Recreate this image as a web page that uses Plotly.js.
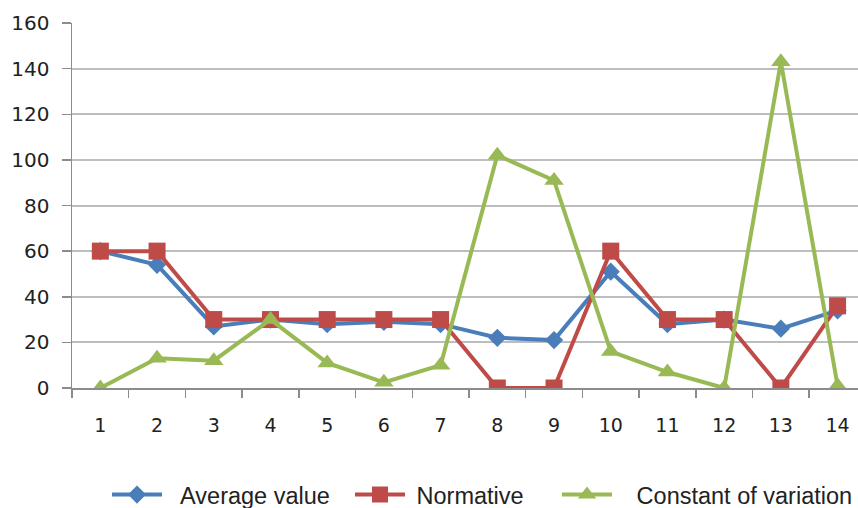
<!DOCTYPE html>
<html>
<head>
<meta charset="utf-8">
<script src="https://cdn.plot.ly/plotly-3.0.1.min.js"></script>
<style>html,body{margin:0;padding:0;background:#fff;}#chart{width:858px;height:508px;}</style>
</head>
<body>
<div id="chart"></div>
<script>
var categories = ["1","2","3","4","5","6","7","8","9","10","11","12","13","14"];
var averageValue = [60, 54, 27, 30, 28, 29, 28, 22, 21, 51, 28, 30, 26, 34];
var normative = [60, 60, 30, 30, 30, 30, 30, 0, 0, 60, 30, 30, 0, 36];
var constantOfVariation = [0, 13, 12, 30, 11, 2.5, 10, 102, 91, 16, 7, 0, 143, 1];
var seriesNames = ["Average value", "Normative", "Constant of variation"];
var yTicks = [0, 20, 40, 60, 80, 100, 120, 140, 160];

var NB = "\u00a0";
var traces = [
  {x: categories, y: averageValue, name: NB + NB + seriesNames[0], legend: "legend", type: "scatter", mode: "lines+markers",
   line: {color: "#4a7ebb", width: 4}, marker: {symbol: "diamond", size: 14, color: "#4a7ebb"}},
  {x: categories, y: normative, name: NB + seriesNames[1], legend: "legend2", type: "scatter", mode: "lines+markers",
   line: {color: "#be4b48", width: 4}, marker: {symbol: "square", size: 17, color: "#be4b48"}},
  {x: categories, y: constantOfVariation, name: NB + NB + NB + seriesNames[2], legend: "legend3", type: "scatter", mode: "lines+markers",
   line: {color: "#98b954", width: 4}, marker: {symbol: "triangle-up", size: 17, color: "#98b954"}}
];

function legendAt(px) {
  return {
    orientation: "h", xref: "container", yref: "container",
    x: px / 858, xanchor: "left", y: 0.026, yanchor: "middle",
    itemwidth: 50, bgcolor: "rgba(0,0,0,0)",
    font: {family: "Liberation Sans", size: 23.5, color: "#222"}
  };
}

var layout = {
  width: 858, height: 508,
  margin: {l: 72, r: 0, t: 23, b: 120, pad: 0},
  paper_bgcolor: "#ffffff", plot_bgcolor: "#ffffff",
  showlegend: true,
  xaxis: {
    type: "category", range: [-0.5, 13.36],
    showgrid: false, zeroline: false,
    showline: true, linecolor: "#8c8c8c", linewidth: 1.5,
    ticks: "outside", tickson: "boundaries", ticklen: 8, tickcolor: "#8c8c8c", tickwidth: 1.5,
    ticklabelstandoff: 20,
    tickfont: {family: "DejaVu Sans", size: 19, color: "#222"}
  },
  yaxis: {
    range: [0, 160], tickvals: yTicks, ticktext: yTicks.map(String),
    showgrid: true, gridcolor: "#bdbdbd", gridwidth: 2,
    zeroline: false, showline: true, linecolor: "#8c8c8c", linewidth: 1.5,
    ticks: "outside", ticklen: 9, tickcolor: "#8c8c8c", tickwidth: 1.5,
    ticklabelstandoff: 8,
    tickfont: {family: "DejaVu Sans", size: 20, color: "#222"}
  },
  legend: legendAt(107),
  legend2: legendAt(350),
  legend3: legendAt(557)
};

Plotly.newPlot("chart", traces, layout, {displayModeBar: false, staticPlot: true});
</script>
</body>
</html>
